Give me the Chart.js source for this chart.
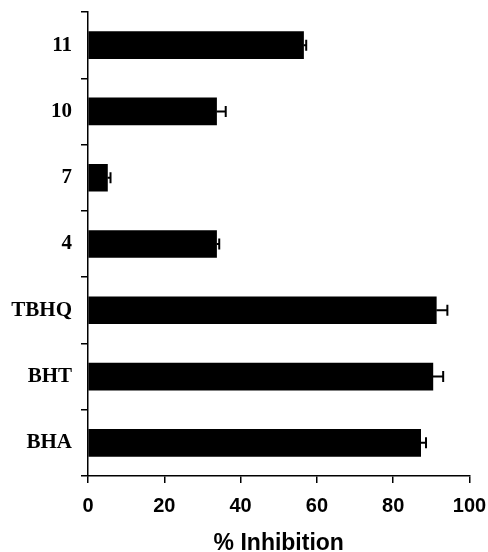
<!DOCTYPE html>
<html>
<head>
<meta charset="utf-8">
<script src="https://cdn.jsdelivr.net/npm/chart.js@4"></script>
<style>
  html, body { margin: 0; padding: 0; background: #fff; }
  #wrap { width: 488px; height: 552px; }
</style>
</head>
<body>
<div id="wrap"><canvas id="inhibitionChart"></canvas></div>
<script>
// compounds, top to bottom
const compounds = ['11', '10', '7', '4', 'TBHQ', 'BHT', 'BHA'];
const inhibition = [56.5, 33.7, 5.1, 33.7, 91.3, 90.4, 87.2];
const errors = [0.7, 2.4, 0.8, 0.7, 2.9, 2.7, 1.4];
const xTicks = [0, 20, 40, 60, 80, 100];

// one-sided error bars with a cap, drawn after the bars
const errorBars = {
  id: 'errorBars',
  afterDatasetsDraw(chart) {
    const ctx = chart.ctx;
    const x = chart.scales.x;
    const y = chart.scales.y;
    ctx.save();
    ctx.strokeStyle = '#000';
    ctx.lineWidth = 2;
    inhibition.forEach((v, i) => {
      const x0 = x.getPixelForValue(v);
      const x1 = x.getPixelForValue(v + errors[i]);
      const yc = y.getPixelForValue(i);
      ctx.beginPath();
      ctx.moveTo(x0, yc);
      ctx.lineTo(x1, yc);
      ctx.moveTo(x1, yc - 5.5);
      ctx.lineTo(x1, yc + 5.5);
      ctx.stroke();
    });
    ctx.restore();
  }
};

const ctx = document.getElementById('inhibitionChart').getContext('2d');
new Chart(ctx, {
  type: 'bar',
  data: {
    labels: compounds,
    datasets: [{
      data: inhibition,
      backgroundColor: '#000',
      borderWidth: 0,
      barThickness: 27
    }]
  },
  options: {
    indexAxis: 'y',
    responsive: true,
    maintainAspectRatio: false,
    animation: false,
    layout: { padding: { top: 12, right: 18.5, bottom: 0, left: 0 } },
    plugins: {
      legend: { display: false },
      tooltip: { enabled: false }
    },
    scales: {
      x: {
        min: 0,
        max: 100,
        afterBuildTicks: (scale) => { scale.ticks = xTicks.map(v => ({ value: v })); },
        afterFit: (scale) => {
          scale.height = 76;
          scale.paddingLeft = 0;
          scale.paddingRight = 0;
        },
        border: { color: '#000', width: 1.5 },
        grid: { drawOnChartArea: false, color: '#000', lineWidth: 1.5, tickLength: 7 },
        ticks: {
          color: '#000',
          padding: 11,
          maxRotation: 0,
          font: { family: '"Liberation Sans", Arial, sans-serif', size: 20, weight: 'bold' }
        },
        title: {
          display: true,
          text: '% Inhibition',
          color: '#000',
          padding: { top: 0, bottom: -5 },
          font: { family: '"Liberation Sans", Arial, sans-serif', size: 23, weight: 'bold' }
        }
      },
      y: {
        afterFit: (scale) => {
          scale.width = 88;
          scale.paddingTop = 0;
          scale.paddingBottom = 0;
        },
        border: { color: '#000', width: 1.5 },
        grid: { offset: true, drawOnChartArea: false, color: '#000', lineWidth: 1.5, tickLength: 7 },
        ticks: {
          color: '#000',
          padding: 9,
          font: { family: '"Liberation Serif", "Times New Roman", serif', size: 21, weight: 'bold' }
        }
      }
    }
  },
  plugins: [errorBars]
});
</script>
</body>
</html>
